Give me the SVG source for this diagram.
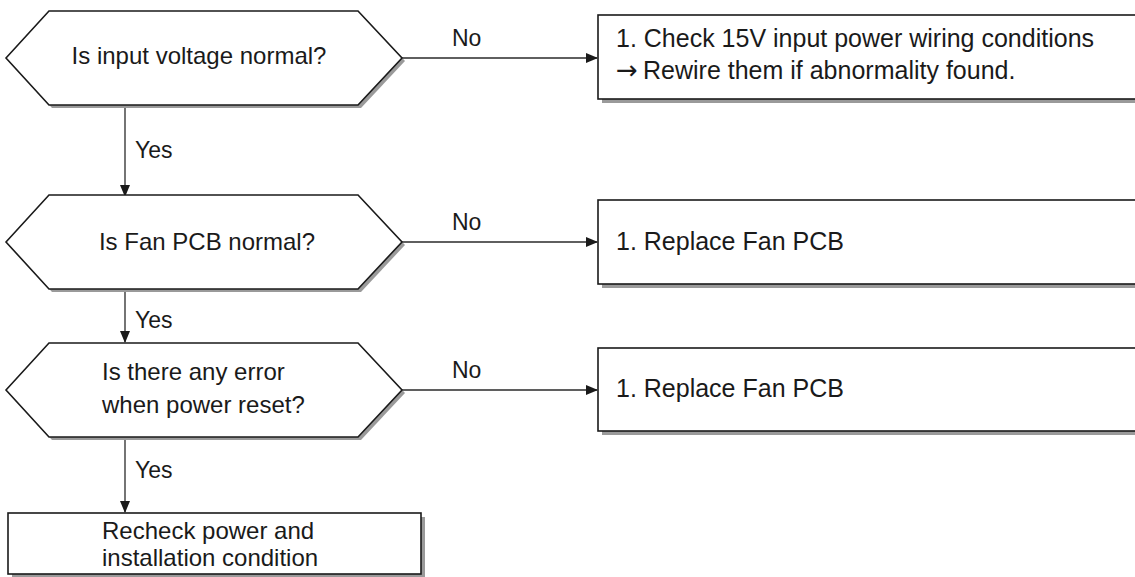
<svg xmlns="http://www.w3.org/2000/svg" width="1135" height="577" viewBox="0 0 1135 577">
<style>
.sh{fill:#9a9a9a;stroke:none}
.nd{fill:#fff;stroke:#1a1a1a;stroke-width:1.6}
.t{font-family:"Liberation Sans",Arial,sans-serif;font-size:23px;fill:#1a1a1a}
.q{font-size:24px}
.b{font-size:25px}
.ar{font-family:"DejaVu Sans",sans-serif;font-size:26px}
.c{stroke:#2a2a2a;stroke-width:1.3;fill:none}
</style>
<defs>
<marker id="ah" markerWidth="12" markerHeight="10" refX="11" refY="5" orient="auto" markerUnits="userSpaceOnUse">
<path d="M0,0 L12,5 L0,10 Z" fill="#1a1a1a"/>
</marker>
</defs>
<rect width="1135" height="577" fill="#fff"/>
<g id="connectors">
<line class="c" x1="125" y1="106" x2="125" y2="196" marker-end="url(#ah)"/>
<line class="c" x1="125" y1="290" x2="125" y2="342" marker-end="url(#ah)"/>
<line class="c" x1="125" y1="438" x2="125" y2="512" marker-end="url(#ah)"/>
<line class="c" x1="402" y1="58" x2="597" y2="58" marker-end="url(#ah)"/>
<line class="c" x1="402" y1="242" x2="597" y2="242" marker-end="url(#ah)"/>
<line class="c" x1="402" y1="390" x2="597" y2="390" marker-end="url(#ah)"/>
<text class="t" x="135" y="158">Yes</text>
<text class="t" x="135" y="328">Yes</text>
<text class="t" x="135" y="478">Yes</text>
<text class="t" x="452" y="46">No</text>
<text class="t" x="452" y="230">No</text>
<text class="t" x="452" y="378">No</text>
</g>
<g id="q1">
<polygon class="sh" points="9,61 52,14 361,14 405,61 361,108 52,108"/>
<polygon class="nd" points="6,58 49,11 358,11 402,58 358,105 49,105"/>
<text class="t q" x="199" y="64" text-anchor="middle">Is input voltage normal?</text>
</g>
<g id="q2">
<polygon class="sh" points="9,245 52,198 361,198 405,245 361,292 52,292"/>
<polygon class="nd" points="6,242 49,195 358,195 402,242 358,289 49,289"/>
<text class="t q" x="207" y="250" text-anchor="middle">Is Fan PCB normal?</text>
</g>
<g id="q3">
<polygon class="sh" points="9,393 52,346 361,346 405,393 361,440 52,440"/>
<polygon class="nd" points="6,390 49,343 358,343 402,390 358,437 49,437"/>
<text class="t q" x="102" y="380">Is there any error</text>
<text class="t q" x="102" y="413">when power reset?</text>
</g>
<g id="a1">
<rect class="sh" x="602" y="19" width="540" height="84"/>
<rect class="nd" x="598" y="15" width="540" height="84"/>
<text class="t b" x="616" y="47">1. Check 15V input power wiring conditions</text>
<text class="t b" x="616" y="79"><tspan class="ar">→</tspan><tspan x="643">Rewire them if abnormality found.</tspan></text>
</g>
<g id="a2">
<rect class="sh" x="602" y="204" width="540" height="84"/>
<rect class="nd" x="598" y="200" width="540" height="84"/>
<text class="t b" x="616" y="250">1. Replace Fan PCB</text>
</g>
<g id="a3">
<rect class="sh" x="602" y="352" width="540" height="83"/>
<rect class="nd" x="598" y="348" width="540" height="83"/>
<text class="t b" x="616" y="397">1. Replace Fan PCB</text>
</g>
<g id="end">
<rect class="sh" x="12" y="517" width="413" height="60"/>
<rect class="nd" x="8" y="513" width="413" height="61"/>
<text class="t q" x="102" y="539">Recheck power and</text>
<text class="t q" x="102" y="566">installation condition</text>
</g>
</svg>
